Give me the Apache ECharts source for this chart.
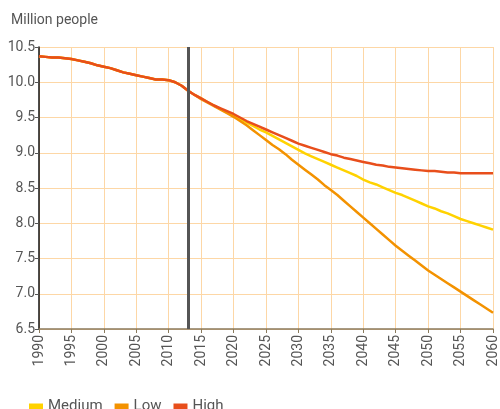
<!DOCTYPE html>
<html>
<head>
<meta charset="utf-8">
<script src="https://cdn.jsdelivr.net/npm/echarts@6/dist/echarts.min.js"></script>
<style>
  html, body { margin: 0; padding: 0; background: #fff; }
  #main { width: 500px; height: 409px; }
</style>
</head>
<body>
<div id="main"></div>
<script>
// years on the x axis
const years = [];
for (let y = 1990; y <= 2060; y++) years.push(String(y));

// observed population 1990-2013 (million)
const historic = [10.37, 10.36, 10.35, 10.35, 10.34, 10.33, 10.31, 10.29, 10.27, 10.24,
    10.22, 10.20, 10.17, 10.14, 10.12, 10.10, 10.08, 10.06, 10.04, 10.04,
    10.03, 10.00, 9.95, 9.88];

// projections 2014-2060
const medium = [9.82, 9.77, 9.72, 9.67, 9.62, 9.57, 9.53, 9.48, 9.43, 9.38,
    9.33, 9.29, 9.24, 9.19, 9.14, 9.09, 9.04, 8.99, 8.95, 8.91,
    8.87, 8.83, 8.79, 8.75, 8.71, 8.67, 8.62, 8.58, 8.55, 8.51,
    8.47, 8.43, 8.40, 8.36, 8.32, 8.28, 8.24, 8.21, 8.17, 8.14,
    8.10, 8.06, 8.03, 8.00, 7.97, 7.94, 7.91];
const low = [9.82, 9.76, 9.71, 9.66, 9.61, 9.56, 9.51, 9.45, 9.39, 9.32,
    9.25, 9.18, 9.11, 9.05, 8.98, 8.90, 8.83, 8.76, 8.69, 8.62,
    8.54, 8.47, 8.40, 8.32, 8.24, 8.16, 8.08, 8.00, 7.92, 7.84,
    7.76, 7.68, 7.61, 7.54, 7.47, 7.40, 7.33, 7.27, 7.21, 7.15,
    7.09, 7.03, 6.97, 6.91, 6.85, 6.79, 6.73];
const high = [9.82, 9.77, 9.72, 9.67, 9.63, 9.59, 9.55, 9.50, 9.45, 9.41,
    9.37, 9.33, 9.29, 9.25, 9.21, 9.17, 9.13, 9.10, 9.07, 9.04,
    9.01, 8.98, 8.96, 8.93, 8.91, 8.89, 8.87, 8.85, 8.83, 8.82,
    8.80, 8.79, 8.78, 8.77, 8.76, 8.75, 8.74, 8.74, 8.73, 8.72,
    8.72, 8.71, 8.71, 8.71, 8.71, 8.71, 8.71];

const markYear = '2013';

const font = "'Liberation Sans Narrow', 'Roboto', sans-serif";
const gridColor = '#fdd7a6';

function line(name, proj, color, z) {
    return {
        name: name,
        type: 'line',
        data: historic.concat(proj),
        symbol: 'none',
        z: z,
        lineStyle: {color: color, width: 2.5},
        itemStyle: {color: color}
    };
}

const chart = echarts.init(document.getElementById('main'));
const series = [
    line('Medium', medium, '#ffd200', 2),
    line('Low', low, '#f39200', 3),
    line('High', high, '#e84e1b', 4)
];
// vertical marker at the base year
series[0].markLine = {
    silent: true,
    symbol: 'none',
    label: {show: false},
    lineStyle: {color: '#555', width: 3, type: 'solid'},
    data: [{xAxis: markYear}]
};

chart.setOption({
    animation: false,
    textStyle: {fontFamily: font},
    title: {
        text: 'Million people',
        left: 6,
        top: 8,
        textStyle: {fontSize: 14, fontWeight: 'normal', color: '#555', fontFamily: font}
    },
    legend: {
        left: 24,
        top: 394,
        itemWidth: 14,
        itemHeight: 6,
        itemGap: 12,
        icon: 'rect',
        textStyle: {fontSize: 15, color: '#555', fontFamily: font},
        data: ['Medium', 'Low', 'High']
    },
    grid: {left: 39, right: 6, top: 47, bottom: 80},
    xAxis: {
        type: 'category',
        data: years,
        boundaryGap: false,
        axisLine: {lineStyle: {color: '#8a7a5c', width: 1.5}},
        axisTick: {interval: 4, length: 4, lineStyle: {color: '#8a7a5c'}},
        axisLabel: {interval: 4, rotate: 90, fontSize: 14, color: '#555', margin: 6, fontFamily: font},
        splitLine: {show: true, interval: 4, lineStyle: {color: gridColor, width: 1}}
    },
    yAxis: {
        type: 'value',
        min: 6.5,
        max: 10.5,
        interval: 0.5,
        axisLine: {show: true, lineStyle: {color: '#111', width: 1.5}},
        axisTick: {show: true, length: 4, lineStyle: {color: '#555'}},
        axisLabel: {fontSize: 14, color: '#555', margin: 4, fontFamily: font,
            formatter: v => v.toFixed(1)},
        splitLine: {lineStyle: {color: gridColor, width: 1}}
    },
    series: series
});
</script>
</body>
</html>
